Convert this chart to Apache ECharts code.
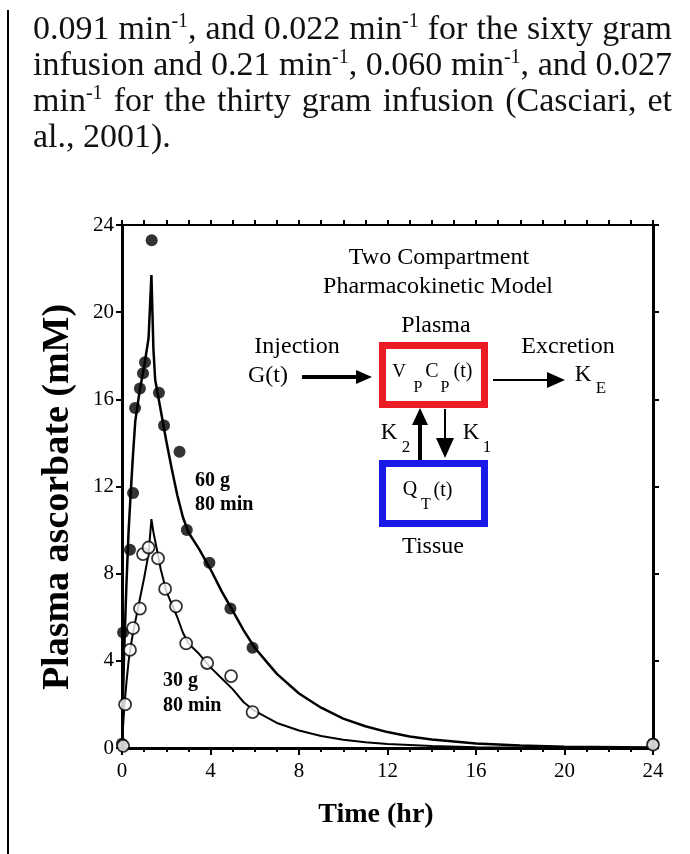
<!DOCTYPE html>
<html>
<head>
<meta charset="utf-8">
<script src="https://cdn.jsdelivr.net/npm/echarts@6/dist/echarts.min.js"></script>
<style>
html, body { margin: 0; padding: 0; background: #fff; }
#chart { width: 690px; height: 854px; }
</style>
</head>
<body>
<div id="chart"></div>
<script>
// measured plasma ascorbate (mM) vs time (hr)
const dose60 = [[0.05, 5.3], [0.36, 9.1], [0.5, 11.7], [0.59, 15.6], [0.81, 16.5], [0.95, 17.2], [1.04, 17.7],
  [1.34, 23.3], [1.67, 16.3], [1.9, 14.8], [2.6, 13.6], [2.93, 10.0], [3.95, 8.5], [4.9, 6.4], [5.9, 4.6],
  [0, 0.2], [24, 0.2]]
const dose30 = [[0.05, 0.1], [0.14, 2.0], [0.36, 4.5], [0.5, 5.5], [0.81, 6.4], [0.95, 8.9], [1.2, 9.2],
  [1.63, 8.7], [1.95, 7.3], [2.44, 6.5], [2.9, 4.8], [3.85, 3.9], [4.93, 3.3], [5.9, 1.65], [24, 0.15]]

// model fit curves
const fit60 = [[0, 0], [0.05, 2.5], [0.1, 4.5], [0.2, 7.5], [0.3, 10.0], [0.4, 11.8], [0.5, 13.5], [0.6, 15.0],
  [0.8, 16.4], [1.0, 17.5], [1.2, 18.8], [1.33, 21.7], [1.42, 18.3], [1.5, 16.9], [1.75, 15.5], [2.0, 14.1],
  [2.25, 12.8], [2.5, 11.6], [2.75, 10.6], [3.0, 9.9], [3.5, 9.1], [4.0, 8.2], [4.5, 7.2], [5.0, 6.3],
  [5.5, 5.4], [6.0, 4.6], [6.5, 4.0], [7.0, 3.4], [8.0, 2.5], [9.0, 1.85], [10.0, 1.35], [11.0, 1.0],
  [12.0, 0.73], [13.0, 0.53], [14.0, 0.39], [16.0, 0.21], [18.0, 0.11], [20.0, 0.06], [24.0, 0.02]]
const fit30 = [[0, 0], [0.05, 1.0], [0.1, 1.8], [0.2, 3.0], [0.3, 4.0], [0.4, 4.7], [0.5, 5.3], [0.6, 5.8],
  [0.8, 6.8], [1.0, 7.8], [1.2, 8.9], [1.33, 10.5], [1.42, 9.9], [1.5, 9.5], [1.75, 8.2], [2.0, 7.2],
  [2.25, 6.6], [2.5, 6.0], [2.75, 5.3], [3.0, 4.8], [3.5, 4.3], [4.0, 3.7], [4.5, 3.2], [5.0, 2.7],
  [5.5, 2.1], [6.0, 1.7], [7.0, 1.15], [8.0, 0.8], [9.0, 0.55], [10.0, 0.38], [11.0, 0.26], [12.0, 0.18],
  [14.0, 0.09], [16.0, 0.04], [20.0, 0.01], [24.0, 0]]

const axisMin = 0
const axisMax = 24
const axisStep = 4

// paragraph above the chart, ^..^ marks superscript
const paragraph = [
  '0.091 min^-1^, and 0.022 min^-1^ for the sixty gram',
  'infusion and 0.21 min^-1^, 0.060 min^-1^, and 0.027',
  'min^-1^ for the thirty gram infusion (Casciari, et',
  'al., 2001).'
]

const serif = '"Liberation Serif", "Times New Roman", serif'
const bodySize = 34
const supSize = 20
const ctx = document.createElement('canvas').getContext('2d')
function measure(t, size) {
  ctx.font = size + 'px ' + serif
  return ctx.measureText(t).width
}

// justified line -> rich text with sized gaps
function paraLine(line, y, justify) {
  const words = line.split(' ')
  let used = 0
  const parts = words.map(w => {
    let s = ''
    w.split('^').forEach((f, i) => {
      if (!f) return
      if (i % 2) { s += '{sup|' + f + '}'; used += measure(f, supSize) }
      else { s += '{n|' + f + '}'; used += measure(f, bodySize) }
    })
    return s
  })
  const gap = justify ? (639 - used) / (words.length - 1) : measure(' ', bodySize)
  return {
    type: 'text', x: 33, y: y,
    style: {
      text: parts.join('{sp| }'),
      align: 'left', verticalAlign: 'middle', textAlign: 'left', textVerticalAlign: 'middle',
      rich: {
        n: { fontSize: bodySize, fontFamily: serif, fill: '#111', color: '#111', lineHeight: 36 },
        sup: { fontSize: supSize, fontFamily: serif, fill: '#111', color: '#111', lineHeight: 22, verticalAlign: 'top' },
        sp: { fontSize: bodySize, fontFamily: serif, width: gap, lineHeight: 36 }
      }
    }
  }
}

function label(text, x, y, size, opts) {
  return Object.assign({
    type: 'text', x: x, y: y,
    style: {
      text: text, fontSize: size, fontFamily: serif, fill: '#000',
      align: 'center', verticalAlign: 'middle', textAlign: 'center', textVerticalAlign: 'middle'
    }
  }, opts || {})
}
function boldLeft(text, x, y, size) {
  const t = label(text, x, y, size)
  t.style.fontWeight = 'bold'
  t.style.align = t.style.textAlign = 'left'
  return t
}
function line(x1, y1, x2, y2, w) {
  return { type: 'line', shape: { x1: x1, y1: y1, x2: x2, y2: y2 }, style: { stroke: '#000', lineWidth: w } }
}
function head(points) {
  return { type: 'polygon', shape: { points: points }, style: { fill: '#000' } }
}

const diagram = [
  label('Two Compartment', 439, 258, 24),
  label('Pharmacokinetic Model', 438, 287, 24),
  label('Plasma', 436, 326, 24),
  label('Injection', 297, 347, 24),
  label('G(t)', 268, 376, 24),
  label('Excretion', 568, 347, 24),
  label('K', 583, 375, 23),
  label('E', 601, 389, 17),
  { type: 'rect', shape: { x: 382.5, y: 345.5, width: 102, height: 59 }, style: { fill: '#fff', stroke: '#ec1c24', lineWidth: 7 } },
  { type: 'rect', shape: { x: 382.5, y: 463.5, width: 102, height: 60 }, style: { fill: '#fff', stroke: '#1a1ae8', lineWidth: 7 } },
  label('V', 399, 372, 19),
  label('P', 418, 388, 16),
  label('C', 432, 372, 20),
  label('P', 445, 388, 16),
  label('(t)', 463, 372, 20),
  label('Q', 410, 490, 20),
  label('T', 426, 505, 16),
  label('(t)', 443, 491, 20),
  label('Tissue', 433, 547, 24),
  label('K', 389, 433, 23),
  label('2', 406, 448, 17),
  label('K', 471, 433, 23),
  label('1', 487, 448, 17),
  line(302, 377, 358, 377, 4),
  head([[356, 370], [372, 377], [356, 384]]),
  line(493, 380, 550, 380, 2),
  head([[547, 372], [565, 380], [547, 388]]),
  line(420, 460, 420, 420, 4),
  head([[412, 425], [420, 408], [428, 425]]),
  line(445, 409, 445, 442, 2),
  head([[436, 438], [454, 438], [445, 458]])
]

const chart = echarts.init(document.getElementById('chart'))
chart.setOption({
  backgroundColor: '#fff',
  animation: false,
  grid: { left: 122, top: 225, width: 531, height: 523 },
  xAxis: [{
    type: 'value', min: axisMin, max: axisMax, interval: axisStep, position: 'bottom',
    axisLine: { onZero: false, lineStyle: { color: '#000', width: 3 } },
    axisTick: { length: 7, lineStyle: { color: '#000', width: 2 } },
    minorTick: { show: true, splitNumber: 4, length: 4, lineStyle: { color: '#000', width: 2 } },
    axisLabel: { fontSize: 21, fontFamily: serif, color: '#000', margin: 13 },
    splitLine: { show: false }
  }, {
    type: 'value', min: axisMin, max: axisMax, interval: 1, position: 'top',
    axisLine: { onZero: false, lineStyle: { color: '#000', width: 2 } },
    axisTick: { length: 5, lineStyle: { color: '#000', width: 2 } },
    axisLabel: { show: false },
    splitLine: { show: false }
  }],
  yAxis: [{
    type: 'value', min: axisMin, max: axisMax, interval: axisStep, position: 'left',
    axisLine: { show: true, onZero: false, lineStyle: { color: '#000', width: 3 } },
    axisTick: { show: true, length: 6, lineStyle: { color: '#000', width: 2 } },
    axisLabel: { fontSize: 21, fontFamily: serif, color: '#000', margin: 8 },
    splitLine: { show: false }
  }, {
    type: 'value', min: axisMin, max: axisMax, interval: axisStep, position: 'right',
    axisLine: { show: true, onZero: false, lineStyle: { color: '#000', width: 3 } },
    axisTick: { show: true, length: 6, lineStyle: { color: '#000', width: 2 } },
    axisLabel: { show: false },
    splitLine: { show: false }
  }],
  series: [{
    name: '60 g fit', type: 'line', data: fit60, showSymbol: false, clip: false,
    lineStyle: { color: '#000', width: 2.5 }
  }, {
    name: '30 g fit', type: 'line', data: fit30, showSymbol: false, clip: false,
    lineStyle: { color: '#000', width: 2 }
  }, {
    name: '60 g', type: 'scatter', data: dose60, symbol: 'circle', symbolSize: 12, clip: false,
    itemStyle: { color: '#000' }
  }, {
    name: '30 g', type: 'scatter', data: dose30, symbol: 'circle', symbolSize: 12, clip: false, z: 3,
    itemStyle: { color: '#fff', borderColor: '#000', borderWidth: 1.8 }
  }],
  graphic: [
    { type: 'rect', shape: { x: 7, y: 10, width: 2, height: 844 }, style: { fill: '#000' } },
    paraLine(paragraph[0], 30, true),
    paraLine(paragraph[1], 66, true),
    paraLine(paragraph[2], 102, true),
    paraLine(paragraph[3], 138, false),
    boldLeft('60 g', 195, 481, 20),
    boldLeft('80 min', 195, 505, 20),
    boldLeft('30 g', 163, 681, 20),
    boldLeft('80 min', 163, 706, 20),
    {
      type: 'text', x: 58, y: 497, rotation: Math.PI / 2,
      style: {
        text: 'Plasma ascorbate (mM)', fontSize: 38, fontWeight: 'bold', fontFamily: serif, fill: '#000',
        align: 'center', verticalAlign: 'middle', textAlign: 'center', textVerticalAlign: 'middle'
      }
    },
    {
      type: 'text', x: 376, y: 815,
      style: {
        text: 'Time (hr)', fontSize: 28, fontWeight: 'bold', fontFamily: serif, fill: '#000',
        align: 'center', verticalAlign: 'middle', textAlign: 'center', textVerticalAlign: 'middle'
      }
    }
  ].concat(diagram)
})
</script>
</body>
</html>
